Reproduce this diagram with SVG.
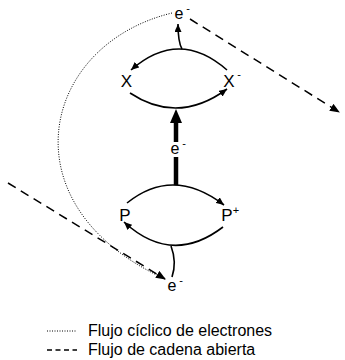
<svg xmlns="http://www.w3.org/2000/svg" width="345" height="360" viewBox="0 0 345 360">
<style>
text{font-family:"Liberation Sans",Arial,sans-serif;fill:#000}
.lbl{font-size:17px}
.el{font-size:16px}
.sup{font-size:11px}
.arc{fill:none;stroke:#000;stroke-width:1.6}
.dash{fill:none;stroke:#000;stroke-width:1.5;stroke-dasharray:9 6}
.dot{fill:none;stroke:#000;stroke-width:1;stroke-dasharray:1 1.5}
.leg{font-size:16px}
</style>
<defs>
<marker id="ah" markerWidth="10" markerHeight="8" refX="9" refY="4" orient="auto" markerUnits="userSpaceOnUse">
<path d="M0,0 L10,4 L0,8 z" fill="#000"/>
</marker>
<marker id="ahs" markerWidth="8" markerHeight="7" refX="8" refY="3.5" orient="auto" markerUnits="userSpaceOnUse">
<path d="M0,0 L8,3.5 L0,7 z" fill="#000"/>
</marker>
</defs>
<g id="connectors">
<path class="dot" d="M172,13 C40,45 5,205 163,278"/>
<path class="dash" d="M190,19 L339,112" marker-end="url(#ah)"/>
<path class="dash" d="M8,183 L165,279" marker-end="url(#ah)"/>
<path class="arc" d="M227,70 Q179,28 131,70" marker-end="url(#ahs)"/>
<path class="arc" d="M130,93 Q178,125 227,89" marker-end="url(#ahs)"/>
<path class="arc" d="M182,49 Q178,42 178,24" marker-end="url(#ahs)"/>
<path class="arc" d="M127,203 Q173,166 224,205" marker-end="url(#ahs)"/>
<path class="arc" d="M223,227 Q172,266 124,222" marker-end="url(#ahs)"/>
<path class="arc" d="M171,246 Q177,262 172,277"/>
<line x1="176" y1="185" x2="176" y2="122" stroke="#000" stroke-width="4.5"/>
<path d="M170,123 L176,109 L182,123 z" fill="#000"/>
<rect x="169" y="142" width="18" height="15" fill="#fff"/>
</g>
<g id="e-top"><text class="el" x="179" y="19" text-anchor="middle">e</text><text class="sup" x="188" y="12" text-anchor="middle">-</text></g>
<g id="X"><text class="lbl" x="126.5" y="87" text-anchor="middle">X</text></g>
<g id="X-minus"><text class="lbl" x="229" y="87" text-anchor="middle">X</text><text class="sup" x="239" y="78" text-anchor="middle">-</text></g>
<g id="e-mid"><text class="el" x="175" y="154" text-anchor="middle">e</text><text class="sup" x="184" y="147" text-anchor="middle">-</text></g>
<g id="P"><text class="lbl" x="125" y="221" text-anchor="middle">P</text></g>
<g id="P-plus"><text class="lbl" x="227" y="221" text-anchor="middle">P</text><text class="sup" x="236" y="214" text-anchor="middle">+</text></g>
<g id="e-bottom"><text class="el" x="172" y="291" text-anchor="middle">e</text><text class="sup" x="181" y="284" text-anchor="middle">-</text></g>
<g id="legend">
<line class="dot" x1="47" y1="331" x2="76" y2="331"/>
<line x1="47" y1="350" x2="77" y2="350" stroke="#000" stroke-width="1.3" stroke-dasharray="5 3.5"/>
<text class="leg" x="88" y="336">Flujo cíclico de electrones</text>
<text class="leg" x="88" y="355">Flujo de cadena abierta</text>
</g>
</svg>
